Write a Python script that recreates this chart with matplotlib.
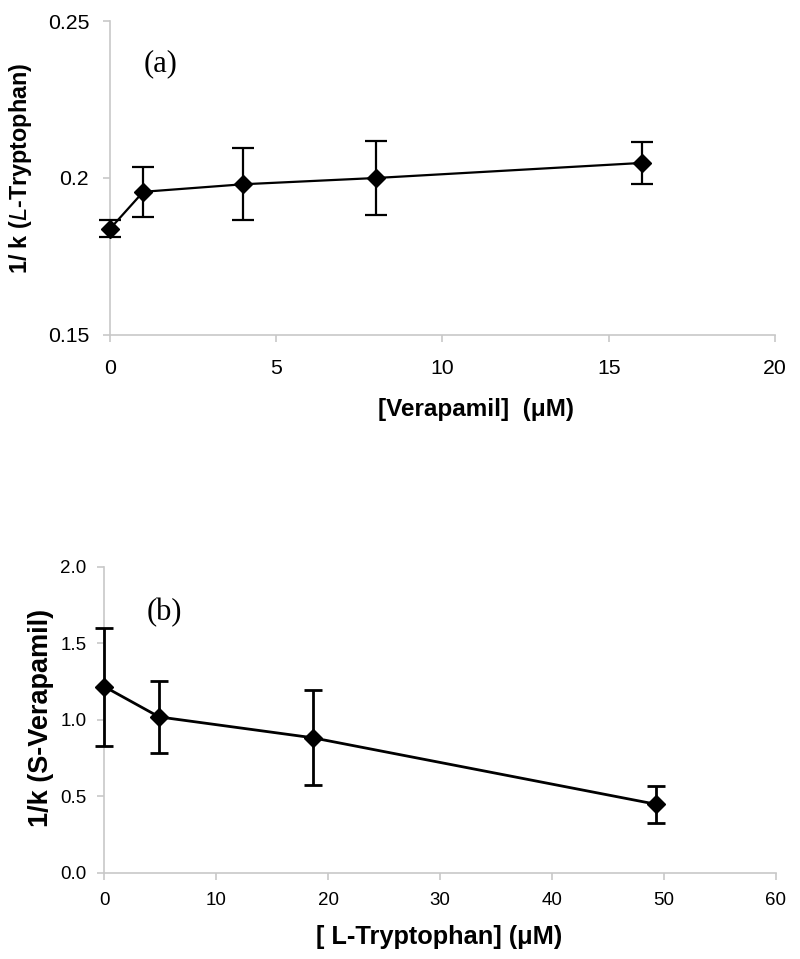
import matplotlib
matplotlib.use("Agg")
import matplotlib.pyplot as plt

# Panel (a)
verapamil = [0, 1, 4, 8, 16]
inv_k_trp = [0.1838, 0.1956, 0.1980, 0.2000, 0.2048]
err_trp = [0.0027, 0.0080, 0.0114, 0.0117, 0.0068]
xticks_a = [0, 5, 10, 15, 20]
yticks_a = [0.15, 0.2, 0.25]
yticklabels_a = ["0.15", "0.2", "0.25"]

# Panel (b)
tryptophan = [0, 4.9, 18.6, 49.3]
inv_k_ver = [1.216, 1.018, 0.882, 0.447]
err_ver = [0.385, 0.236, 0.310, 0.120]
xticks_b = [0, 10, 20, 30, 40, 50, 60]
yticks_b = [0.0, 0.5, 1.0, 1.5, 2.0]

plt.rcParams['font.family'] = ['Liberation Sans', 'DejaVu Sans']
GRAY = '#c8c8c8'

fig = plt.figure(figsize=(8, 9.59), dpi=100)

def style(ax, fs, xpad, ypad):
    for s in ['top', 'right']:
        ax.spines[s].set_visible(False)
    for s in ['left', 'bottom']:
        ax.spines[s].set_color(GRAY)
        ax.spines[s].set_linewidth(1.2)
    ax.tick_params(axis='both', which='major', color=GRAY, length=5, width=1.2,
                   labelsize=fs, direction='out')
    ax.tick_params(axis='x', pad=xpad)
    ax.tick_params(axis='y', pad=ypad)

# Top panel
ax1 = fig.add_axes([0.1375, 0.6507, 0.8312, 0.3274])
ax1.errorbar(verapamil, inv_k_trp, yerr=err_trp, color='black', lw=1.6,
             marker='D', markersize=9, capsize=8, capthick=1.6, elinewidth=1.6,
             clip_on=False, zorder=5)
ax1.set_xlim(0, 20)
ax1.set_ylim(0.15, 0.25)
ax1.set_xticks(xticks_a)
ax1.set_yticks(yticks_a)
ax1.set_yticklabels(yticklabels_a)
style(ax1, 15.3, 12, 10)
ax1.text(1.0, 0.2365, "(a)", family=['Liberation Serif'], fontsize=22, va='center', ha='left')
fig.text(476 / 800, 1 - 410 / 959, "[Verapamil]  (\u03bcM)", fontsize=17.5, fontweight='bold',
         ha='center', va='center')
fig.text(21 / 800, 1 - 168 / 959, r"1/ k ($\bf\it{L}$-Tryptophan)", fontsize=16.8, fontweight='bold',
         ha='center', va='center', rotation=90)

# Bottom panel
ax2 = fig.add_axes([0.1304, 0.09, 0.8396, 0.3191])
ax2.errorbar(tryptophan, inv_k_ver, yerr=err_ver, color='black', lw=2.0,
             marker='D', markersize=9, capsize=6.5, capthick=2.0, elinewidth=2.0,
             clip_on=False, zorder=5)
ax2.set_xlim(0, 60)
ax2.set_ylim(0, 2.0)
ax2.set_xticks(xticks_b)
ax2.set_yticks(yticks_b)
ax2.set_yticklabels([f"{v:.1f}" for v in yticks_b])
style(ax2, 13.5, 9, 8)
ax2.text(3.8, 1.70, "(b)", family=['Liberation Serif'], fontsize=22, va='center', ha='left')
fig.text(439 / 800, 1 - 937 / 959, "[ L-Tryptophan] (\u03bcM)", fontsize=18.3, fontweight='bold',
         ha='center', va='center')
fig.text(41 / 800, 1 - 718 / 959, "1/k (S-Verapamil)", fontsize=19.5, fontweight='bold',
         ha='center', va='center', rotation=90)

fig.savefig("out.png", dpi=100)
